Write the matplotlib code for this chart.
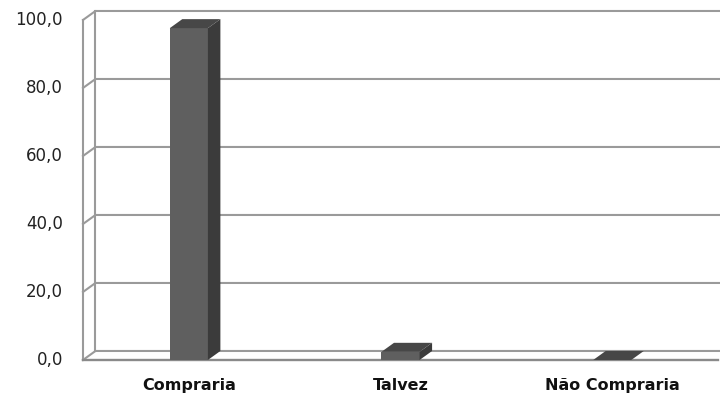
import matplotlib.pyplot as plt
from matplotlib.patches import Polygon

# data
categories = ["Compraria", "Talvez", "Não Compraria"]
values = [97.6, 2.4, 0.0]
yticks = [0, 20, 40, 60, 80, 100]
ytick_labels = ["0,0", "20,0", "40,0", "60,0", "80,0", "100,0"]

# pseudo-3D depth offset (in data units)
DX = 0.059
DY = 2.65
BAR_HALF = 0.09

grid_col = "#9a9a9a"
front_col = "#5f5f5f"
side_col = "#3b3b3b"
top_col = "#474747"

fig = plt.figure(figsize=(7.2, 3.98), dpi=100)
ax = fig.add_axes([0, 0, 1, 1])
ax.set_xlim(-0.892, 2.509)
ax.set_ylim(-11.18, 105.88)
ax.axis("off")

x0 = -0.5
x_end = 2.6

# back wall left edge and front left edge
ax.plot([x0 + DX, x0 + DX], [DY, 100 + DY], color=grid_col, lw=1.5, zorder=1)
ax.plot([x0, x0], [0, 100], color=grid_col, lw=1.5, zorder=1)

# gridlines with their diagonal on the side wall
for v in yticks:
    ax.plot([x0, x0 + DX, x_end], [v, v + DY, v + DY], color=grid_col, lw=1.5, zorder=1)

# floor front edge
ax.plot([x0, 2.5], [0, 0], color="#8a8a8a", lw=1.7, zorder=1)

# tick labels
for v, lab in zip(yticks, ytick_labels):
    ax.text(-0.594, v, lab, ha="right", va="center", fontsize=12, color="#222222")

# bars (drawn over the grid)
for i, (cat, v) in enumerate(zip(categories, values)):
    l, r = i - BAR_HALF, i + BAR_HALF
    if v > 0:
        ax.add_patch(Polygon([(l, 0), (r, 0), (r, v), (l, v)], closed=True,
                             facecolor=front_col, edgecolor="none", zorder=3))
        ax.add_patch(Polygon([(r, 0), (r + DX, DY), (r + DX, v + DY), (r, v)], closed=True,
                             facecolor=side_col, edgecolor="none", zorder=3))
    ax.add_patch(Polygon([(l, v), (r, v), (r + DX, v + DY), (l + DX, v + DY)], closed=True,
                         facecolor=top_col, edgecolor="none", zorder=3))
    ax.text(i, -7.6, cat, ha="center", va="center", fontsize=11.5,
            fontweight="bold", color="#111111")

fig.savefig("out.png", dpi=100)
